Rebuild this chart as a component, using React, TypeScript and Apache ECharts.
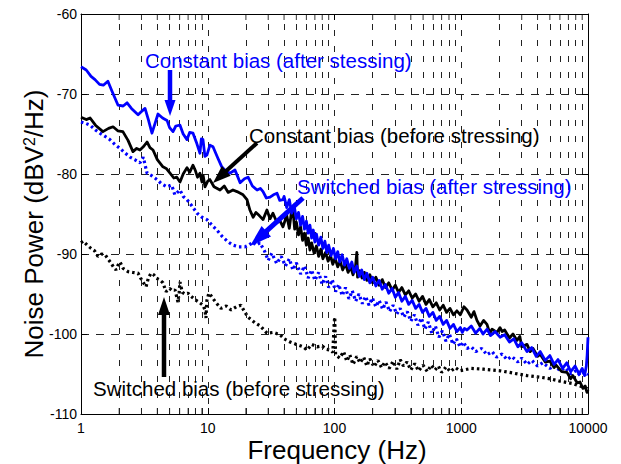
import React, { useEffect, useRef } from 'react';
import * as echarts from 'echarts';

// ---------- data (frequency in Hz, noise power in dBV^2/Hz) ----------
const constantAfter: [number, number][] = [
  [1, -66.6], [1.1, -67.0], [1.2, -67.8], [1.29, -68.2], [1.4, -68.8], [1.5, -68.9], [1.63, -68.4], [1.75, -69.6],
  [1.96, -71.4], [2.15, -71.5], [2.31, -71.1], [2.5, -71.8], [2.82, -72.6], [3.0, -72.2], [3.2, -71.8], [3.4, -73.2],
  [3.63, -74.9], [3.85, -73.6], [4.05, -72.5], [4.4, -73.0], [4.77, -73.3], [5.0, -74.2], [5.32, -74.7], [5.6, -74.0],
  [6.04, -73.9], [6.4, -75.0], [6.86, -75.7], [7.2, -74.8], [7.65, -74.9], [8.2, -76.2], [8.68, -77.4], [8.9, -75.6],
  [9.17, -75.7], [9.5, -77.8], [9.86, -77.6], [10.4, -76.4], [11, -76.6], [12, -78.0], [12.9, -79.1], [14, -79.7],
  [15, -79.9], [16.4, -79.5], [17.2, -80.3], [18, -81.1], [19.5, -80.6], [20.8, -80.4], [22.5, -81.5], [24.5, -82.0],
  [26, -81.8], [27.3, -82.2], [29, -83.0], [31, -82.9], [33, -82.6], [35.2, -82.4], [37, -83.3], [39.2, -83.2],
  [40, -82.8], [42, -84.2], [44, -83.2], [46, -84.9], [48, -83.9], [50, -85.6], [52, -84.8], [54, -86.4],
  [56, -85.3], [58, -86.9], [60, -85.9], [62, -87.4], [64, -86.4], [66, -88.0], [68, -87.0], [70, -88.5],
  [72, -87.5], [75, -88.9], [78, -87.9], [81, -89.3], [84, -88.4], [87, -89.8], [90, -88.9], [94, -90.2],
  [98, -89.3], [102, -90.6], [106, -89.7], [110, -91.0], [115, -90.1], [120, -91.4], [125, -90.6], [131, -91.8],
  [137, -91.0], [143, -92.3], [150, -91.5], [157, -92.8], [164, -92.0], [172, -93.2], [180, -92.4], [190, -93.6],
  [200, -92.9], [212, -94.0], [225, -93.3], [238, -94.4], [252, -93.8], [268, -94.9], [285, -94.3], [302, -95.4],
  [320, -94.8], [340, -95.9], [362, -95.3], [385, -96.3], [410, -95.8], [437, -96.8], [465, -96.3], [495, -97.3],
  [527, -96.8], [560, -97.8], [597, -97.3], [635, -98.3], [676, -97.8], [720, -98.8], [766, -98.3], [815, -99.3],
  [868, -98.8], [924, -99.7], [984, -99.2], [1020, -99.8], [1060, -99.3], [1110, -99.5], [1200, -99.0],
  [1300, -99.9], [1400, -99.3], [1485, -100.0], [1600, -99.4], [1700, -100.2], [1850, -99.7], [2023, -100.4],
  [2200, -100.1], [2400, -101.0], [2600, -100.6], [2800, -101.6], [3000, -101.1], [3300, -102.2], [3600, -101.7],
  [3900, -102.8], [4200, -102.2], [4600, -103.3], [5000, -102.7], [5400, -103.8], [5800, -103.2], [6300, -104.3],
  [6800, -103.6], [7300, -104.7], [7900, -104.0], [8500, -105.0], [9000, -104.3], [9400, -105.2], [9700, -104.0],
  [9850, -102.6], [10000, -100.4],
];

const constantBefore: [number, number][] = [
  [1, -72.9], [1.1, -73.2], [1.18, -73.0], [1.3, -73.9], [1.49, -74.7], [1.65, -74.3], [1.79, -74.1], [1.95, -74.6],
  [2.14, -74.7], [2.35, -75.8], [2.57, -77.2], [2.75, -76.8], [2.92, -77.0], [3.1, -76.6], [3.32, -76.0], [3.5, -76.7],
  [3.7, -77.0], [4.0, -78.2], [4.43, -79.1], [4.7, -79.3], [5.04, -79.9], [5.4, -80.5], [5.7, -80.4], [6.04, -81.0],
  [6.4, -80.0], [6.86, -79.2], [7.2, -79.8], [7.65, -78.9], [8.0, -79.6], [8.3, -80.4], [8.68, -79.9], [9.0, -81.0],
  [9.2, -80.2], [9.51, -81.6], [10.0, -80.9], [10.4, -80.7], [11.2, -81.6], [12.5, -82.0], [13.5, -81.5], [14.5, -82.3],
  [15.8, -82.0], [17, -82.2], [19, -82.6], [20.4, -83.2], [21.5, -84.5], [22.8, -85.4], [24, -84.8], [25.5, -85.2],
  [27.3, -85.7], [29.3, -84.5], [31, -85.6], [32.7, -84.9], [35.2, -86.1], [37, -85.8], [39.2, -86.6], [42, -85.2],
  [44, -86.8], [45.5, -85.0], [47, -84.5], [48.5, -86.9], [50, -86.0], [52, -87.6], [54, -86.6], [56, -88.3],
  [58, -87.4], [60, -88.9], [62, -88.0], [64, -89.5], [66, -88.6], [69, -89.9], [72, -89.0], [75, -90.3],
  [78, -89.4], [81, -90.6], [85, -89.8], [89, -90.9], [93, -90.2], [97, -91.3], [101, -90.5], [106, -91.6],
  [111, -90.9], [116, -92.0], [122, -91.2], [128, -92.3], [134, -91.6], [140, -92.6], [146, -91.8], [150, -89.8],
  [152, -92.9], [158, -92.1], [165, -93.0], [172, -92.3], [180, -93.3], [190, -92.6], [200, -93.6], [212, -92.9],
  [225, -93.9], [238, -93.2], [252, -94.2], [268, -93.6], [285, -94.5], [302, -93.9], [320, -94.8], [340, -94.2],
  [362, -95.1], [385, -94.6], [410, -95.5], [437, -95.0], [465, -95.9], [495, -95.3], [527, -96.3], [560, -95.7],
  [597, -96.6], [635, -96.1], [676, -97.0], [720, -96.4], [766, -97.3], [815, -96.8], [868, -97.6], [924, -97.1],
  [984, -97.6], [1050, -96.6], [1110, -97.0], [1200, -97.9], [1260, -97.2], [1330, -98.3], [1406, -99.0],
  [1500, -98.3], [1596, -98.8], [1680, -99.9], [1750, -99.4], [1914, -99.8], [2023, -99.2], [2100, -99.7],
  [2200, -99.5], [2400, -100.5], [2561, -100.0], [2753, -100.8], [2900, -100.3], [3000, -101.6], [3303, -101.3],
  [3500, -102.2], [3682, -101.8], [4000, -102.8], [4180, -102.5], [4600, -103.5], [5012, -103.4], [5400, -104.2],
  [5600, -103.9], [6200, -104.7], [6826, -104.8], [7300, -105.6], [7600, -105.2], [8200, -106.1], [8646, -106.0],
  [9130, -106.8], [9500, -106.5], [9820, -107.3], [10000, -107.0],
];

const switchedAfter: [number, number][] = [
  [1, -73.5], [1.1, -73.7], [1.18, -73.9], [1.3, -74.5], [1.41, -74.9], [1.55, -75.3], [1.69, -75.7], [1.85, -76.3],
  [2.03, -76.8], [2.2, -77.3], [2.44, -77.9], [2.65, -78.2], [2.92, -78.6], [3.1, -77.9], [3.32, -79.9], [3.6, -80.2],
  [3.98, -80.7], [4.3, -81.2], [4.77, -81.6], [5.2, -81.4], [5.5, -82.6], [6.04, -82.0], [6.4, -82.8], [6.86, -83.2],
  [7.5, -84.0], [8.23, -84.9], [9.0, -85.4], [9.86, -85.7], [10.8, -86.4], [11.8, -87.0], [13, -87.8], [14.5, -88.5],
  [15.8, -88.9], [17.5, -89.1], [19.7, -89.1], [21, -88.9], [22.8, -88.5], [24, -88.9], [25.8, -88.6], [28, -89.6],
  [30, -90.8], [32, -89.9], [35, -91.2], [38, -90.3], [41, -91.5], [44, -90.6], [47, -92.0], [50, -91.1],
  [54, -92.5], [58, -91.5], [62, -93.0], [66, -92.0], [70, -93.3], [75, -92.3], [80, -93.8], [85, -92.8],
  [90, -94.2], [96, -93.2], [102, -94.7], [108, -93.8], [115, -95.2], [122, -94.2], [130, -95.6], [138, -94.6],
  [147, -95.9], [156, -95.0], [166, -96.2], [176, -95.3], [187, -96.4], [199, -95.5], [212, -96.6], [225, -95.8],
  [240, -96.9], [255, -96.0], [272, -97.2], [290, -96.4], [310, -97.5], [330, -96.8], [352, -97.9], [375, -97.2],
  [400, -98.4], [427, -97.6], [455, -98.9], [485, -98.0], [517, -99.4], [550, -98.5], [586, -99.9], [625, -99.0],
  [666, -100.4], [710, -99.6], [757, -100.9], [806, -100.0], [860, -101.3], [916, -100.6], [977, -101.6],
  [1040, -101.0], [1110, -101.8], [1200, -101.6], [1300, -102.2], [1450, -101.8], [1596, -102.6], [1750, -102.2],
  [1900, -102.9], [2100, -102.5], [2297, -103.2], [2500, -102.8], [2800, -103.5], [3000, -103.0], [3303, -103.8],
  [3600, -103.3], [4000, -104.0], [4400, -103.6], [5012, -104.3], [5500, -103.9], [6000, -104.6], [6600, -104.2],
  [7300, -105.0], [8000, -104.6], [8700, -105.2], [9400, -104.8], [10000, -105.1],
];

const switchedBefore: [number, number][] = [
  [1, -88.6], [1.04, -88.4], [1.12, -88.9], [1.2, -89.3], [1.28, -89.6], [1.36, -90.3], [1.45, -90.0], [1.55, -90.1],
  [1.63, -90.6], [1.72, -91.1], [1.8, -91.6], [1.89, -92.0], [1.96, -91.4], [2.03, -91.0], [2.15, -91.8], [2.35, -92.2],
  [2.55, -92.3], [2.82, -92.4], [2.95, -93.0], [3.08, -93.5], [3.26, -94.1], [3.4, -93.0], [3.57, -92.4], [3.75, -92.6],
  [3.91, -93.0], [4.15, -93.2], [4.43, -93.6], [4.69, -94.7], [5.0, -94.3], [5.25, -94.6], [5.52, -94.5], [5.82, -96.0],
  [5.95, -94.8], [6.04, -93.5], [6.3, -94.8], [6.6, -95.0], [6.98, -94.9], [7.4, -95.3], [7.93, -95.7], [8.5, -96.0],
  [9.17, -96.4], [9.5, -97.0], [9.68, -98.0], [9.85, -95.8], [10.2, -94.9], [10.6, -95.2], [11.5, -96.0], [12.7, -96.8],
  [14, -96.5], [15.3, -97.0], [16.8, -96.6], [18.3, -96.4], [19.5, -97.2], [20.8, -97.9], [23.6, -98.6], [26, -99.0],
  [29.3, -99.9], [33, -99.8], [37.2, -100.1], [40, -100.6], [44.6, -101.0], [50, -101.3], [56.4, -101.6], [60.7, -102.0],
  [66, -101.3], [72.8, -101.6], [80, -101.5], [86, -101.9], [92.2, -102.0], [97, -102.3], [99.5, -98.5], [100.5, -97.9],
  [102, -102.6], [106, -102.8], [110, -103.0], [118, -102.2], [125, -103.4], [132, -102.6], [140, -103.8],
  [150, -102.8], [159, -103.6], [170, -102.9], [180, -104.0], [190, -103.1], [205, -104.1], [220, -103.3],
  [235, -104.2], [250, -103.5], [270, -104.3], [290, -103.4], [310, -104.4], [330, -103.2], [350, -104.0],
  [373, -103.5], [400, -104.5], [430, -103.7], [460, -104.6], [500, -103.9], [540, -104.7], [580, -103.9],
  [620, -104.5], [660, -104.0], [700, -104.8], [760, -104.1], [820, -104.7], [900, -104.2], [977, -104.6],
  [1200, -104.3], [1500, -104.4], [2023, -104.6], [2400, -104.8], [2800, -105.0], [3303, -105.2],
  [4200, -105.4], [5012, -105.6], [6012, -105.9], [7600, -106.2], [8646, -106.5], [9820, -106.8], [10000, -106.9],
];

const X_MIN = 1;
const X_MAX = 10000;
const Y_MIN = -110;
const Y_MAX = -60;
const Y_STEP = 10;
const decadeStarts = [1, 10, 100, 1000];
const minorMultipliers = [2, 3, 4, 5, 6, 7, 8, 9];

const FONT = "'Liberation Sans', Arial, Helvetica, sans-serif";
const BLUE = '#0000ff';
const BLACK = '#000000';

const minorFreqs: number[] = [];
decadeStarts.forEach((d) => minorMultipliers.forEach((m) => minorFreqs.push(d * m)));

function arrow(x1: number, y1: number, x2: number, y2: number, color: string, headLen: number, headW: number, shaftW: number) {
  const dx = x2 - x1;
  const dy = y2 - y1;
  const L = Math.hypot(dx, dy);
  const ux = dx / L;
  const uy = dy / L;
  const bx = x2 - ux * headLen;
  const by = y2 - uy * headLen;
  const px = -uy;
  const py = ux;
  return [
    {
      type: 'line',
      z: 100,
      shape: { x1, y1, x2: bx + ux * 1, y2: by + uy * 1 },
      style: { stroke: color, lineWidth: shaftW },
    },
    {
      type: 'polygon',
      z: 100,
      shape: {
        points: [
          [x2, y2],
          [bx + (px * headW) / 2, by + (py * headW) / 2],
          [bx - (px * headW) / 2, by - (py * headW) / 2],
        ],
      },
      style: { fill: color },
    },
  ];
}

function annot(x: number, y: number, text: string, color: string) {
  return {
    type: 'text',
    z: 100,
    x,
    y,
    style: { text, fill: color, fontSize: 20.5, fontFamily: FONT, align: 'left', verticalAlign: 'middle' },
  };
}

export default function App() {
  const ref = useRef<HTMLDivElement>(null);

  useEffect(() => {
    document.body.style.margin = '0';
    const chart = echarts.init(ref.current as HTMLDivElement, null, { renderer: 'svg' });

    const axisLine = { show: true, onZero: false, lineStyle: { color: BLACK, width: 1 } };
    const tick = { show: true, inside: true, length: 6, lineStyle: { color: BLACK, width: 1 } };

    const option: any = {
      animation: false,
      backgroundColor: '#ffffff',
      grid: { left: 81, top: 14, width: 507, height: 400, containLabel: false },
      xAxis: [
        {
          type: 'log',
          logBase: 10,
          min: X_MIN,
          max: X_MAX,
          position: 'bottom',
          axisLine,
          axisTick: tick,
          axisLabel: {
            color: BLACK,
            fontSize: 14,
            fontFamily: FONT,
            margin: 7,
            lineHeight: 14,
            formatter: (v: number) => String(Math.round(v)),
          },
          splitLine: { show: true, lineStyle: { color: '#222', width: 1, type: [6, 10] } },
        },
        {
          type: 'log',
          logBase: 10,
          min: X_MIN,
          max: X_MAX,
          position: 'top',
          axisLine,
          axisTick: tick,
          axisLabel: { show: false },
          splitLine: { show: false },
        },
      ],
      yAxis: [
        {
          type: 'value',
          min: Y_MIN,
          max: Y_MAX,
          interval: Y_STEP,
          position: 'left',
          axisLine,
          axisTick: tick,
          axisLabel: { color: BLACK, fontSize: 14, fontFamily: FONT, margin: 4 },
          splitLine: { show: true, lineStyle: { color: '#222', width: 1, type: [8, 7] } },
        },
        {
          type: 'value',
          min: Y_MIN,
          max: Y_MAX,
          interval: Y_STEP,
          position: 'right',
          axisLine,
          axisTick: tick,
          axisLabel: { show: false },
          splitLine: { show: false },
        },
      ],
      series: [
        {
          type: 'line',
          name: 'minor grid',
          data: [],
          z: 1,
          silent: true,
          markLine: {
            silent: true,
            symbol: 'none',
            label: { show: false },
            animation: false,
            lineStyle: { color: '#222', width: 1, type: [6, 10] },
            data: minorFreqs.map((f) => ({ xAxis: f })),
          },
        },
        {
          type: 'scatter',
          name: 'minor ticks bottom',
          silent: true,
          z: 3,
          symbol: 'rect',
          symbolSize: [1, 6],
          symbolOffset: [0, -3],
          itemStyle: { color: BLACK },
          data: minorFreqs.map((f) => [f, Y_MIN]),
        },
        {
          type: 'scatter',
          name: 'minor ticks top',
          silent: true,
          z: 3,
          symbol: 'rect',
          symbolSize: [1, 6],
          symbolOffset: [0, 3],
          itemStyle: { color: BLACK },
          data: minorFreqs.map((f) => [f, Y_MAX]),
        },
        {
          type: 'line',
          name: 'Switched bias (before stressing)',
          data: switchedBefore,
          showSymbol: false,
          z: 4,
          lineStyle: { color: BLACK, width: 3.2, type: [2.5, 3], cap: 'butt' },
        },
        {
          type: 'line',
          name: 'Switched bias (after stressing)',
          data: switchedAfter,
          showSymbol: false,
          z: 5,
          lineStyle: { color: BLUE, width: 3.2, type: [2.5, 3], cap: 'butt' },
        },
        {
          type: 'line',
          name: 'Constant bias (before stressing)',
          data: constantBefore,
          showSymbol: false,
          z: 6,
          lineStyle: { color: BLACK, width: 2.8, type: 'solid', join: 'round' },
        },
        {
          type: 'line',
          name: 'Constant bias (after stessing)',
          data: constantAfter,
          showSymbol: false,
          z: 7,
          lineStyle: { color: BLUE, width: 2.8, type: 'solid', join: 'round' },
        },
      ],
      graphic: [
        {
          type: 'text',
          z: 100,
          x: 34,
          y: 224,
          rotation: Math.PI / 2,
          style: {
            text: '{a|Noise Power (dBV}{b|2}{a|/Hz)}',
            align: 'center',
            verticalAlign: 'middle',
            rich: {
              a: { fontSize: 26, fontFamily: FONT, fill: BLACK },
              b: { fontSize: 16, fontFamily: FONT, fill: BLACK, verticalAlign: 'top' },
            },
          },
        },
        {
          type: 'text',
          z: 100,
          x: 337,
          y: 450,
          style: {
            text: 'Frequency (Hz)',
            fontSize: 26,
            lineHeight: 24,
            fontFamily: FONT,
            fill: BLACK,
            align: 'center',
            verticalAlign: 'middle',
          },
        },
        annot(145, 60, 'Constant bias (after stessing)', BLUE),
        annot(249, 135, 'Constant bias (before stressing)', BLACK),
        annot(297, 186, 'Switched bias (after stressing)', BLUE),
        annot(93, 388, 'Switched bias (before stressing)', BLACK),
        ...arrow(170, 70, 170, 116, BLUE, 16, 11, 4.5),
        ...arrow(257, 143, 213, 183, BLACK, 18, 13, 4),
        ...arrow(303, 198, 250, 246, BLUE, 22, 14, 5),
        ...arrow(164, 377, 164, 297, BLACK, 18, 12, 4.5),
      ],
    };

    chart.setOption(option);
    return () => chart.dispose();
  }, []);

  return <div ref={ref} style={{ width: 621, height: 464 }} />;
}
